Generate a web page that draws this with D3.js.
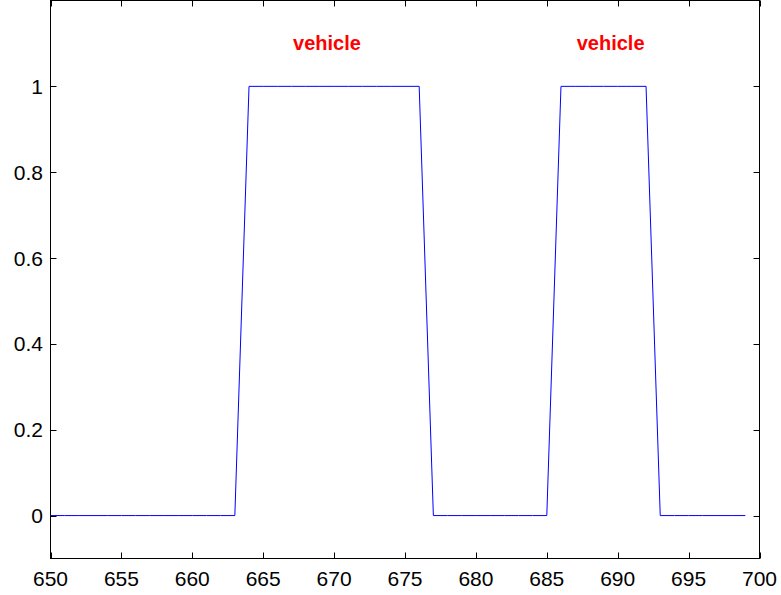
<!DOCTYPE html>
<html>
<head>
<meta charset="utf-8">
<script src="https://d3js.org/d3.v7.min.js"></script>
<style>
  body { margin: 0; background: #fff; }
  text { font-family: "Liberation Sans", Arial, Helvetica, sans-serif; }
</style>
</head>
<body>
<svg id="chart" width="781" height="595"></svg>
<script>
// signal samples: frame index and detection value
var frames = d3.range(650, 700);
var detect = [0,0,0,0,0,0,0,0,0,0, 0,0,0,0,1,1,1,1,1,1, 1,1,1,1,1,1,1,0,0,0,
              0,0,0,0,0,0,1,1,1,1, 1,1,1,0,0,0,0,0,0,0];
var xTicks = [650, 655, 660, 665, 670, 675, 680, 685, 690, 695, 700];
var yTicks = [0, 0.2, 0.4, 0.6, 0.8, 1];
var labels = [{x: 669.5, y: 1.1, text: "vehicle"}, {x: 689.5, y: 1.1, text: "vehicle"}];

var svg = d3.select("#chart");
var plotL = 50.5, plotR = 759.5, plotT = 0.5, plotB = 558.5;

var xScale = d3.scaleLinear().domain([650, 700]).range([plotL, plotR]);
var yScale = d3.scaleLinear().domain([-0.1, 1.2]).range([plotB, plotT]);

var tickLen = 6;

// box
svg.append("rect")
  .attr("x", plotL).attr("y", plotT)
  .attr("width", plotR - plotL).attr("height", plotB - plotT)
  .attr("fill", "none").attr("stroke", "#000").attr("stroke-width", 1);

// x ticks (bottom and top, inward)
var xg = svg.append("g");
xTicks.forEach(function(t) {
  var px = Math.round(xScale(t)) + 0.5;
  xg.append("line").attr("x1", px).attr("x2", px)
    .attr("y1", plotB).attr("y2", plotB - tickLen).attr("stroke", "#000");
  xg.append("line").attr("x1", px).attr("x2", px)
    .attr("y1", plotT).attr("y2", plotT + tickLen).attr("stroke", "#000");
  xg.append("text").attr("x", xScale(t)).attr("y", 586)
    .attr("text-anchor", "middle").style("font-size", "21px").text(t);
});

// y ticks (left and right, inward)
var yg = svg.append("g");
yTicks.forEach(function(t) {
  var py = Math.round(yScale(t)) + 0.5;
  yg.append("line").attr("x1", plotL).attr("x2", plotL + tickLen)
    .attr("y1", py).attr("y2", py).attr("stroke", "#000");
  yg.append("line").attr("x1", plotR).attr("x2", plotR - tickLen)
    .attr("y1", py).attr("y2", py).attr("stroke", "#000");
  yg.append("text").attr("x", 43).attr("y", yScale(t) + 7.5)
    .attr("text-anchor", "end").style("font-size", "21px").text(t);
});

// signal line
var line = d3.line()
  .x(function(d, i) { return xScale(frames[i]); })
  .y(function(d) { return yScale(d); });

svg.append("path")
  .datum(detect)
  .attr("d", line)
  .attr("fill", "none")
  .attr("stroke", "#0000ff")
  .attr("stroke-width", 1);

// annotations
svg.selectAll(".lbl")
  .data(labels)
  .enter()
  .append("text")
  .attr("class", "lbl")
  .attr("x", d => xScale(d.x))
  .attr("y", d => yScale(d.y) + 7)
  .attr("text-anchor", "middle")
  .attr("fill", "#ff0000")
  .style("font-size", "20px")
  .style("font-weight", "bold")
  .text(d => d.text);
</script>
</body>
</html>
